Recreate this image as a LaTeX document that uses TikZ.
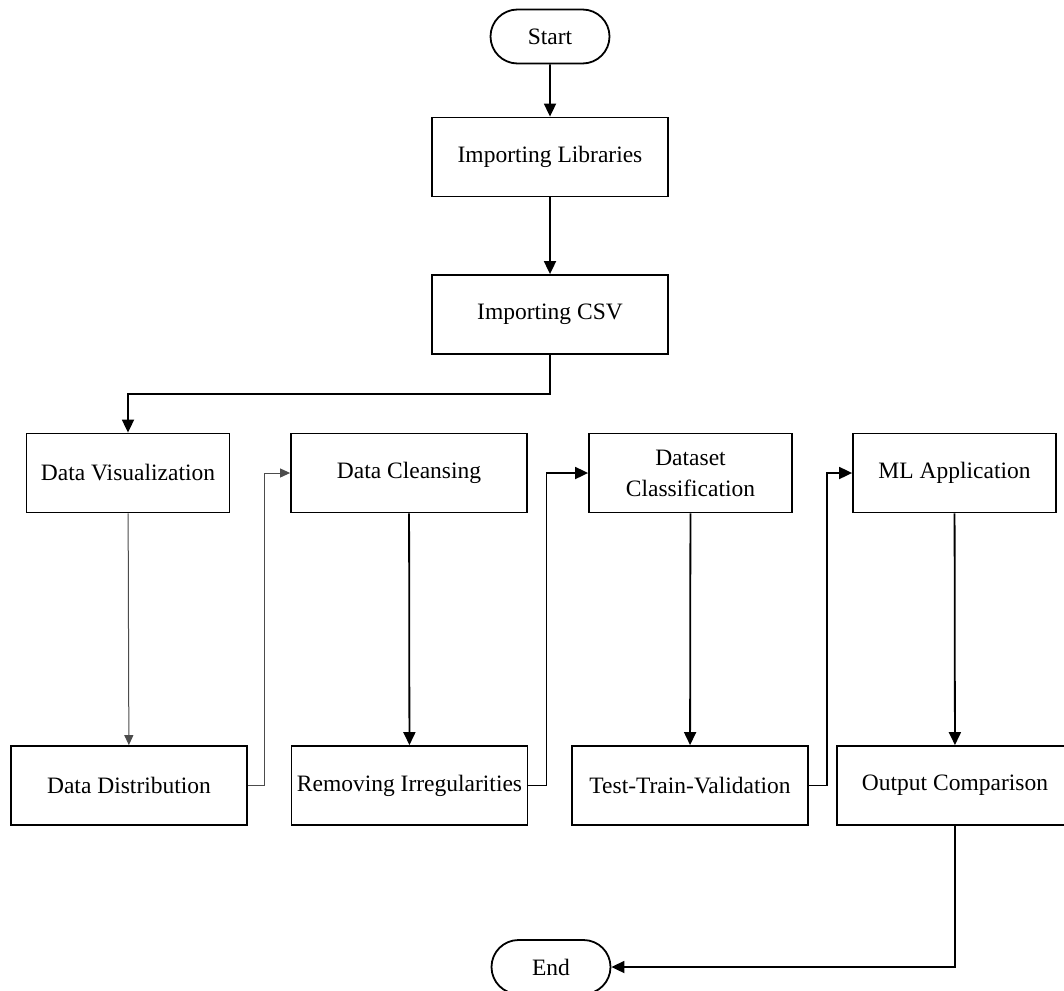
\documentclass[tikz,border=0pt]{standalone}
\usepackage{fontspec}
\setmainfont{Liberation Serif}
\usetikzlibrary{arrows.meta,shapes.misc}

\tikzset{
  box/.style={draw, line width=1.8pt, rectangle, inner sep=0pt,
    minimum width=236pt, minimum height=79pt, align=center,
    font=\fontsize{23.5}{31}\selectfont},
  smallbox/.style={box, minimum width=203pt},
  terminal/.style={draw, line width=1.8pt, rounded rectangle, inner sep=0pt,
    minimum width=119pt, minimum height=54pt,
    font=\fontsize{23.5}{31}\selectfont},
  flow/.style={line width=1.8pt, -{Triangle[length=13pt,width=12pt]}},
  thinflow/.style={line width=1pt, draw=black!70, -{Triangle[length=10pt,width=9pt]}}
}

\begin{document}
\begin{tikzpicture}[x=1pt,y=-1pt]
  \clip (0,0) rectangle (1064,990);
  \fill[white] (0,0) rectangle (1064,990);

  % main column
  \node[terminal] (start) at (550,36.5) {Start};
  \node[box] (lib) at (550,157) {Importing Libraries};
  \node[box] (csv) at (550,314.5) {Importing CSV};

  % upper row
  \node[smallbox] (vis) at (128,473) {Data Visualization};
  \node[box] (clean) at (409,473) {Data Cleansing};
  \node[smallbox] (dataset) at (690.5,473) {Dataset\\Classification};
  \node[smallbox] (ml) at (954.5,473) {ML Application};

  % lower row
  \node[box] (dist) at (129,785.5) {Data Distribution};
  \node[box] (remove) at (409.5,785.5) {Removing Irregularities};
  \node[box] (ttv) at (690,785.5) {Test-Train-Validation};
  \node[box] (out) at (955,785.5) {Output Comparison};

  \node[terminal] (end) at (551,967) {End};

  % connectors
  \draw[flow] (start) -- (lib);
  \draw[flow] (lib) -- (csv);
  \draw[flow] (csv.south) -- ++(0,39) -| (vis.north);
  \draw[thinflow] (vis) -- (dist);
  \draw[thinflow] (dist.east) -- ++(17,0) |- (clean.west);
  \draw[flow] (clean) -- (remove);
  \draw[flow] (remove.east) -- ++(18,0) |- (dataset.west);
  \draw[flow] (dataset) -- (ttv);
  \draw[flow] (ttv.east) -- ++(18,0) |- (ml.west);
  \draw[flow] (ml) -- (out);
  \draw[flow] (out.south) |- (end.east);
\end{tikzpicture}
\end{document}
